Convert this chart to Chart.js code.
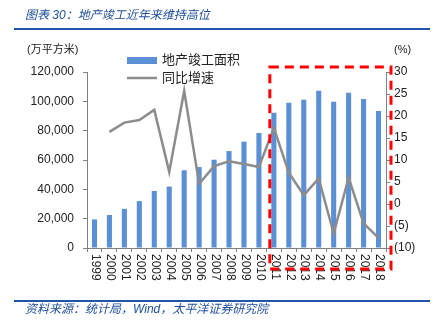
<!DOCTYPE html>
<html><head><meta charset="utf-8">
<script src="https://cdn.jsdelivr.net/npm/chart.js@4/dist/chart.umd.min.js"></script>
<style>
html,body{margin:0;padding:0;background:#fff;}
#wrap{position:relative;width:437px;height:330px;overflow:hidden;font-family:"Liberation Sans","Noto Sans CJK SC",sans-serif;}
canvas{position:absolute;left:0;top:0;}
.title{position:absolute;left:25px;top:6px;font-size:12px;font-style:italic;color:#1f4e9c;white-space:nowrap;line-height:18px;}
.rule{position:absolute;left:14px;width:416px;height:2px;background:#1f56a8;}
.src{position:absolute;left:25px;top:301px;font-size:12px;font-style:italic;color:#1f4e9c;white-space:nowrap;line-height:16px;}
</style></head>
<body><div id="wrap">
<canvas id="c" width="437" height="330"></canvas>
<div class="title">图表 30：地产竣工近年来维持高位</div>
<div class="rule" style="top:28px"></div>
<div class="rule" style="top:300px"></div>
<div class="src">资料来源：统计局，Wind，太平洋证券研究院</div>
</div>
<script>
const categories = ["1999","2000","2001","2002","2003","2004","2005","2006","2007","2008","2009","2010","2011","2012","2013","2014","2015","2016","2017","2018"];
const completedArea = [19500,22500,26700,32000,38900,41900,53000,55200,60200,66100,72500,78400,92200,99100,101100,107200,99800,105900,101600,93400];
const yoyGrowth = [null,16.4,18.5,19.1,21.4,7.3,25.7,4.6,8.6,9.7,9.1,8.4,17.3,7.1,2.0,5.8,-6.7,6.0,-4.4,-7.7];
const seriesNames = ["地产竣工面积","同比增速"];
const leftUnit = "(万平方米)";
const rightUnit = "(%)";
const highlightFrom = "2011";

const FONT = '"Liberation Sans","Noto Sans CJK SC",sans-serif';
const AXIS = '#808080';

const overlay = {
  id:'overlay',
  afterDraw(chart){
    const ctx = chart.ctx, x = chart.scales.x, y1 = chart.scales.y1;
    ctx.save();
    // x labels rotated clockwise
    ctx.fillStyle = '#222';
    ctx.font = '12px ' + FONT;
    ctx.textAlign = 'left'; ctx.textBaseline = 'middle';
    categories.forEach((c,i)=>{
      const px = x.getPixelForTick(i);
      ctx.save(); ctx.translate(px+1, x.top + 6); ctx.rotate(Math.PI/2);
      ctx.fillText(c,0,0); ctx.restore();
    });
    // units
    ctx.font = '11px ' + FONT;
    ctx.fillStyle = '#222';
    ctx.textBaseline = 'middle';
    ctx.textAlign = 'left';
    ctx.fillText(leftUnit, 27, 50);
    ctx.fillText(rightUnit, 394, 50);
    // legend
    ctx.fillStyle = '#5b8fd6';
    ctx.fillRect(127, 57, 30, 7);
    ctx.strokeStyle = '#8c8c8c'; ctx.lineWidth = 2.5;
    ctx.beginPath(); ctx.moveTo(127, 78); ctx.lineTo(157, 78); ctx.stroke();
    ctx.fillStyle = '#222';
    ctx.font = '13px ' + FONT;
    ctx.fillText(seriesNames[0], 162, 60);
    ctx.fillText(seriesNames[1], 162, 78);
    // red dashed highlight box
    const idx = categories.indexOf(highlightFrom);
    const cw = x.getPixelForTick(1) - x.getPixelForTick(0);
    const left = x.getPixelForTick(idx) - cw*0.27;
    const right = y1.left + 5;
    ctx.strokeStyle = '#ff0000'; ctx.lineWidth = 3; ctx.setLineDash([9,6]);
    ctx.strokeRect(left, 67, right-left, 202);
    ctx.restore();
  }
};

new Chart(document.getElementById('c'), {
  type:'bar',
  data:{
    labels: categories,
    datasets:[
      {type:'line', label:seriesNames[1], data:yoyGrowth, yAxisID:'y1', borderColor:'#8c8c8c', borderWidth:2.5, pointRadius:0, tension:0, spanGaps:false, order:0},
      {type:'bar', label:seriesNames[0], data:completedArea, yAxisID:'y', backgroundColor:'#5b8fd6', categoryPercentage:1, barPercentage:0.34, order:1}
    ]
  },
  options:{
    responsive:false, animation:false, devicePixelRatio:1,
    layout:{padding:{top:72,left:0,right:0,bottom:0}},
    plugins:{legend:{display:false}, tooltip:{enabled:false}},
    scales:{
      x:{
        grid:{drawOnChartArea:false, drawTicks:true, tickLength:4, color:AXIS, offset:true},
        border:{color:AXIS, width:1},
        ticks:{color:'rgba(0,0,0,0)', maxRotation:90, minRotation:90, autoSkip:false, font:{size:12, family:FONT}},
        afterFit(s){ s.height = 82; }
      },
      y:{
        position:'left', min:0, max:120000,
        grid:{drawOnChartArea:false, drawTicks:true, tickLength:4, color:AXIS},
        border:{color:AXIS, width:1},
        ticks:{stepSize:20000, color:'#222', padding:9, font:{size:12, family:FONT}, callback:v=>v.toLocaleString('en-US')},
        afterFit(s){ s.width = 87; }
      },
      y1:{
        position:'right', min:-10, max:30,
        grid:{drawOnChartArea:false, drawTicks:true, tickLength:4, color:AXIS},
        border:{color:AXIS, width:1},
        ticks:{stepSize:5, color:'#222', padding:4, font:{size:12, family:FONT}, callback:v=> v<0 ? '('+Math.abs(v)+')' : String(v)},
        afterFit(s){ s.width = 51; }
      }
    }
  },
  plugins:[overlay]
});
</script>
</body></html>
